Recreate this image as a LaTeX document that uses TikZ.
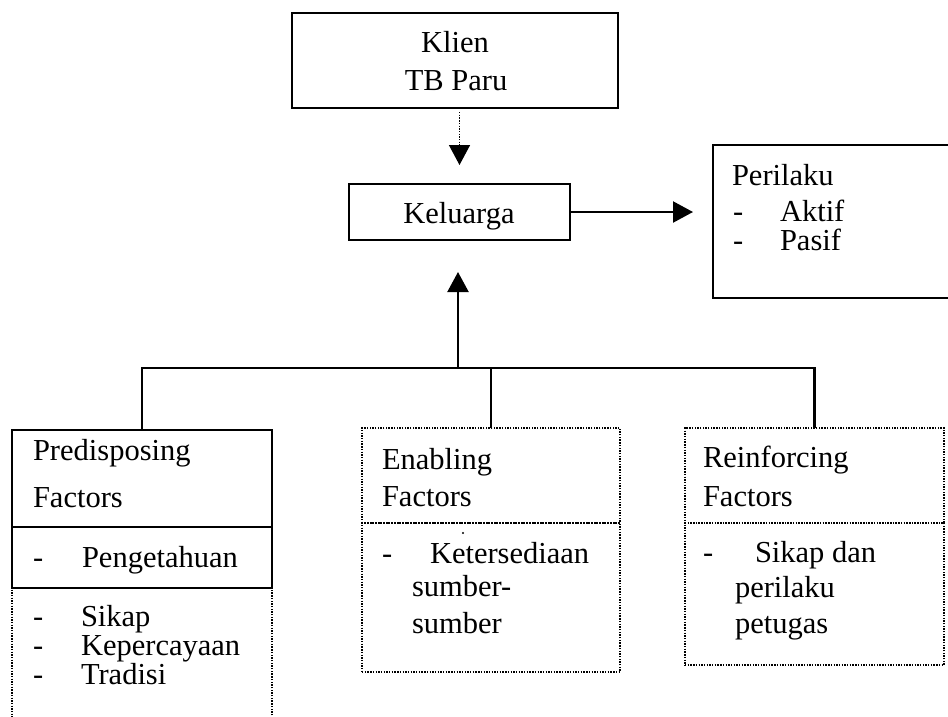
\documentclass[tikz,border=0pt]{standalone}
\usepackage{fontspec}
\setmainfont{Liberation Serif}
\usetikzlibrary{arrows.meta}
\tikzset{
  solidbox/.style={draw=black, line width=2.2pt, inner sep=0pt, outer sep=0pt},
  dotbox/.style={draw=black, line width=1.4pt, dash pattern=on 1.4pt off 1.3pt, inner sep=0pt, outer sep=0pt},
  txt/.style={inner sep=0pt, outer sep=0pt, font=\fontsize{30.5}{34}\selectfont},
  txtl/.style={txt, anchor=base west},
  txtc/.style={txt, anchor=base},
  conn/.style={draw=black, line width=2.2pt},
  tip/.style={-{Triangle[length=20pt,width=21pt]}},
}
\begin{document}
\begin{tikzpicture}[x=1pt,y=-1pt]
\useasboundingbox (0,0) rectangle (948,716);
% boxes
\node[solidbox, minimum width=326pt, minimum height=95pt] (klien) at (455,60.5) {};
\node[solidbox, minimum width=221pt, minimum height=56pt] (kel) at (459.5,212) {};
\node[solidbox, minimum width=236pt, minimum height=153pt] (peri) at (831,221.5) {};
\node[solidbox, minimum width=260pt, minimum height=97pt] (pred) at (142,478.5) {};
\node[solidbox, minimum width=260pt, minimum height=61pt] (predm) at (142,557.5) {};
\node[dotbox, minimum width=260pt, minimum height=140pt] (predb) at (142,658) {};
\node[dotbox, minimum width=258pt, minimum height=95pt] (enab) at (491,475.5) {};
\node[dotbox, minimum width=258pt, minimum height=149pt] (enabb) at (491,597.5) {};
\node[dotbox, minimum width=259pt, minimum height=95pt] (reinf) at (814.5,475.5) {};
\node[dotbox, minimum width=259pt, minimum height=142pt] (reinfb) at (814.5,594) {};
% texts
\node[txtc] (t1) at (455,52) {Klien};
\node[txtc] (t2) at (456,90) {TB Paru};
\node[txtc] (t3) at (459,223) {Keluarga};
\node[txtl] (t4) at (732,185) {Perilaku};
\node[txtl] (t5) at (733,221) {-};
\node[txtl] (t6) at (780,221) {Aktif};
\node[txtl] (t7) at (733,250) {-};
\node[txtl] (t8) at (780,250) {Pasif};
\node[txtl] (t9) at (33,460) {Predisposing};
\node[txtl] (t10) at (33,507) {Factors};
\node[txtl] (t11) at (33,567) {-};
\node[txtl] (t12) at (82,567) {Pengetahuan};
\node[txtl] (t13) at (33,626) {-};
\node[txtl] (t14) at (81,626) {Sikap};
\node[txtl] (t15) at (33,655) {-};
\node[txtl] (t16) at (81,655) {Kepercayaan};
\node[txtl] (t17) at (33,684) {-};
\node[txtl] (t18) at (81,684) {Tradisi};
\node[txtl] (t19) at (382,469) {Enabling};
\node[txtl] (t20) at (382,506) {Factors};
\node[txtl] (t21) at (382,563) {-};
\node[txtl] (t22) at (430,563) {Ketersediaan};
\node[txtl] (t23) at (412,596) {sumber-};
\node[txtl] (t24) at (412,633) {sumber};
\node[txtl] (t25) at (703,467) {Reinforcing};
\node[txtl] (t26) at (703,506) {Factors};
\node[txtl] (t27) at (703,562) {-};
\node[txtl] (t28) at (755,562) {Sikap dan};
\node[txtl] (t29) at (735,597) {perilaku};
\node[txtl] (t30) at (735,633) {petugas};
\fill (463,533) circle (1.2pt);
% connectors
\draw[conn, tip, dash pattern=on 1.4pt off 1.3pt, line width=1.4pt, shorten <=4pt, shorten >=19pt] (klien.south -| kel.north) -- (kel.north);
\draw[conn, tip, shorten >=20pt] (kel.east) -- (peri.west |- kel.east);
\coordinate (bus) at (458,368);
\draw[conn] (pred.north) |- (reinf.north |- bus) -- (reinf.north);
\draw[conn] (enab.north) -- (enab.north |- bus);
\draw[conn, tip, shorten >=32pt] (bus) -- (bus |- kel.south);
\end{tikzpicture}
\end{document}
